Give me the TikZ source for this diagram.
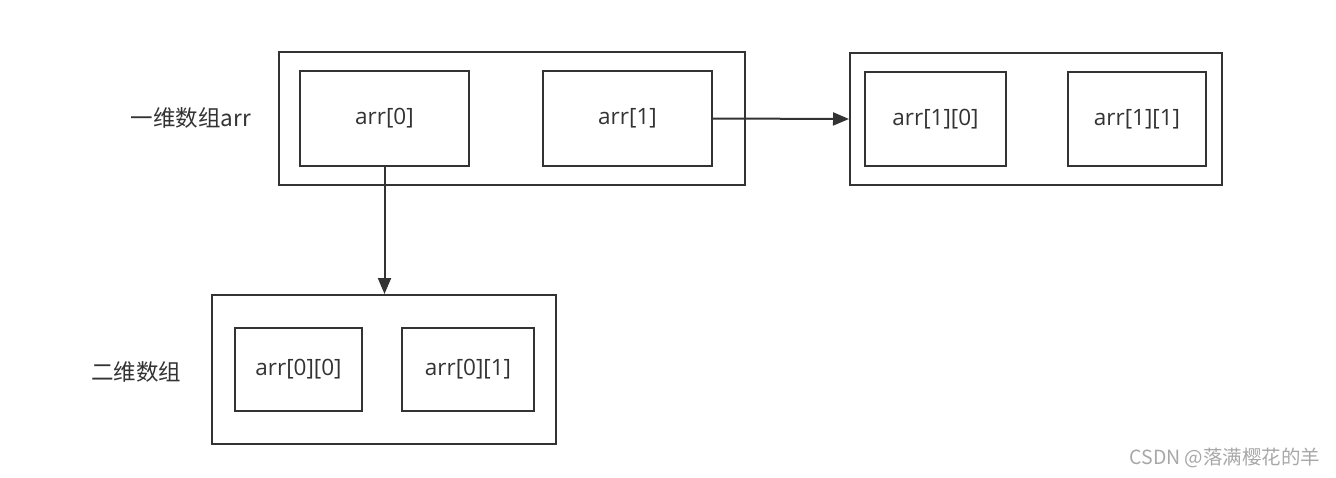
\documentclass[tikz,border=0pt]{standalone}
\usepackage{fontspec}
\setmainfont{Open Sans}
\newfontfamily\cjk{Noto Sans CJK SC}
\usetikzlibrary{arrows.meta}
\definecolor{ink}{HTML}{333333}
\definecolor{wm}{HTML}{A8A8A8}
\tikzset{
  box/.style={draw=ink, line width=2pt, inner sep=0pt, font=\fontsize{22.5}{26}\selectfont, text=ink},
  lbl/.style={inner sep=0pt, font=\fontsize{22.5}{26}\selectfont\cjk, text=ink},
  conn/.style={draw=ink, line width=2pt, -{Triangle[length=16pt,width=13pt]}}
}
\begin{document}
\begin{tikzpicture}[x=1pt,y=-1pt]
\useasboundingbox[fill=white] (0,0) rectangle (1336,477);
% top-left group
\node[box, minimum width=466pt, minimum height=133pt] (o1) at (512,118.5) {};
\node[box, minimum width=169pt, minimum height=95pt] (a0) at (384.5,118.5) {arr[0]};
\node[box, minimum width=169pt, minimum height=95pt] (a1) at (627.5,118.5) {arr[1]};
% right group
\node[box, minimum width=372pt, minimum height=132pt] (o2) at (1036,119) {};
\node[box, minimum width=141pt, minimum height=94pt] (a10) at (935.5,119) {arr[1][0]};
\node[box, minimum width=138pt, minimum height=94pt] (a11) at (1137,119) {arr[1][1]};
% bottom group
\node[box, minimum width=344pt, minimum height=149pt] (o3) at (384,369.5) {};
\node[box, minimum width=127pt, minimum height=83pt] (a00) at (298.5,369.5) {arr[0][0]};
\node[box, minimum width=132pt, minimum height=83pt] (a01) at (468,369.5) {arr[0][1]};
% labels
\node[lbl] (l1) at (191,118) {一维数组arr};
\node[lbl] (l2) at (136,372) {二维数组};
% connectors
\draw[conn] (a1.east) -- (o2.west);
\draw[conn] (a0.south) -- (a0.south |- o3.north);
% watermark
\node[inner sep=0pt, text=wm, font=\fontsize{19.5}{22}\selectfont\cjk] (wmk) at (1225,458) {CSDN @落满樱花的羊};
\end{tikzpicture}
\end{document}
